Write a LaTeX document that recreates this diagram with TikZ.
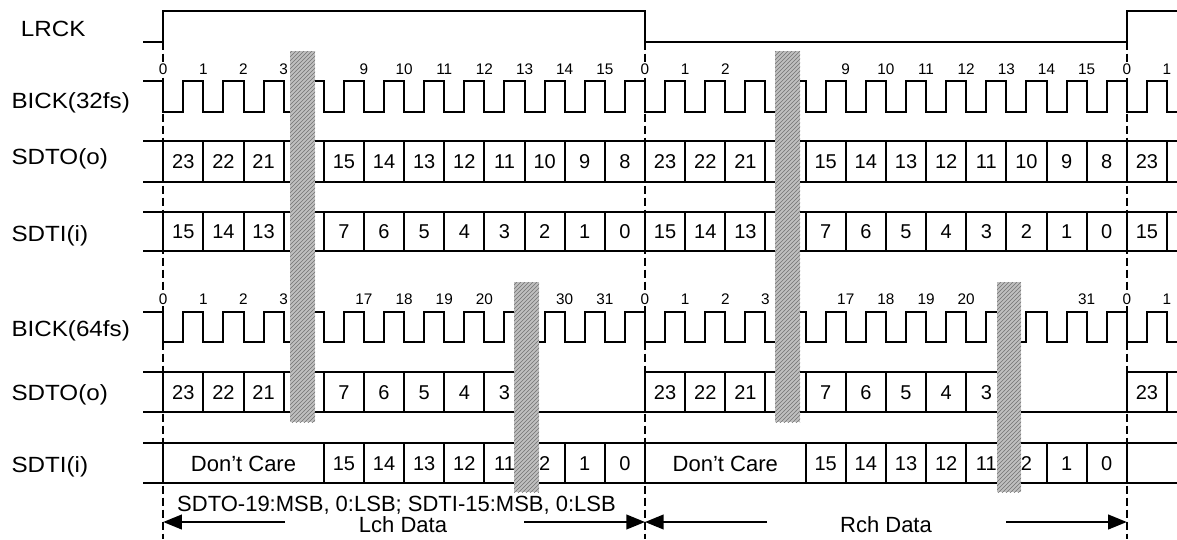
\documentclass[tikz,border=0pt]{standalone}
\usepackage{fontspec}
\setmainfont{Liberation Sans}
\newfontfamily\wideSans{Liberation Sans}[FakeStretch=1.1]
\usetikzlibrary{arrows.meta,patterns}

\tikzset{every picture/.style={line width=1.5pt}}
\tikzset{
  sig name/.style={anchor=base west, inner sep=0pt, font=\wideSans\fontsize{16.5}{18}\selectfont},
  bit num/.style={inner sep=1pt, fill=white, font=\fontsize{11.5}{12}\selectfont},
  cell val/.style={inner sep=0pt, font=\fontsize{15}{17}\selectfont},
  note txt/.style={anchor=base, inner sep=0pt, text depth=0pt, font=\fontsize{16.5}{18}\selectfont},
  frame edge/.style={line width=1.1pt, dash pattern=on 6pt off 3pt},
  skip bar/.style={fill=black!25, postaction={pattern=north east lines, pattern color=black!55}},
  ch arrow/.style={-{Triangle[length=14pt,width=11pt]}},
}

\begin{document}
\begin{tikzpicture}[x=0.75pt,y=0.75pt,yscale=-1,xscale=1]
	\useasboundingbox (0,0) rectangle (1177,539);

	%Frame edges (LRCK transitions)
	\coordinate (f0) at (163.2,41.7);
	\coordinate (f1) at (645,41.7);
	\coordinate (f2) at (1126.8,41.7);
	\foreach \f in {f0,f1,f2} \draw [frame edge] (\f) -- ++(0,497.3);

	%LRCK
	\draw (143,41.7) -- (f0) -- (163.2,11) -- (645,11) -- (f1) -- (f2) -- (1126.8,11) -- (1177,11);

	%BICK(32fs)
	\draw (143,81) \foreach \k in {0,...,24} { -- ({163.2+40.15*\k},81) -- ++(0,30.5) -- ++(20.075,0) -- ++(0,-30.5) } -- (1166.95,81) -- ++(0,30.5) -- (1177,111.5);
	\foreach \k/\n in {0/0,1/1,2/2,3/3,5/9,6/10,7/11,8/12,9/13,10/14,11/15,12/0,13/1,14/2,17/9,18/10,19/11,20/12,21/13,22/14,23/15,24/0,25/1}
		\draw ({163.2+40.15*\k},69.5) node [bit num] (ta\k) {\n};

	%SDTO(o) 32fs
	\draw (143,141) -- (1177,141) (143,181.5) -- (1177,181.5);
	\foreach \k in {0,...,25} \draw ({163.2+40.15*\k},141) -- ++(0,40.5);
	\foreach \k/\v in {0/23,1/22,2/21,4/15,5/14,6/13,7/12,8/11,9/10,10/9,11/8,12/23,13/22,14/21,16/15,17/14,18/13,19/12,20/11,21/10,22/9,23/8,24/23}
		\draw ({183.3+40.15*\k},162) node [cell val] (oa\k) {\v};

	%SDTI(i) 32fs
	\draw (143,211.5) -- (1177,211.5) (143,251) -- (1177,251);
	\foreach \k in {0,...,25} \draw ({163.2+40.15*\k},211.5) -- ++(0,39.5);
	\foreach \k/\v in {0/15,1/14,2/13,4/7,5/6,6/5,7/4,8/3,9/2,10/1,11/0,12/15,13/14,14/13,16/7,17/6,18/5,19/4,20/3,21/2,22/1,23/0,24/15}
		\draw ({183.3+40.15*\k},232) node [cell val] (ia\k) {\v};

	%BICK(64fs)
	\draw (143,311.7) \foreach \k in {0,...,24} { -- ({163.2+40.15*\k},311.7) -- ++(0,30.6) -- ++(20.075,0) -- ++(0,-30.6) } -- (1166.95,311.7) -- ++(0,30.6) -- (1177,342.3);
	\foreach \k/\n in {0/0,1/1,2/2,3/3,5/17,6/18,7/19,8/20,10/30,11/31,12/0,13/1,14/2,15/3,17/17,18/18,19/19,20/20,23/31,24/0,25/1}
		\draw ({163.2+40.15*\k},299) node [bit num] (tb\k) {\n};

	%SDTO(o) 64fs
	\draw (143,372.3) -- (520,372.3) (645,372.3) -- (1005,372.3) (1126.8,372.3) -- (1177,372.3) (143,412.3) -- (1177,412.3);
	\foreach \k in {0,...,8,12,13,...,20,24,25} \draw ({163.2+40.15*\k},372.3) -- ++(0,40);
	\foreach \k/\v in {0/23,1/22,2/21,4/7,5/6,6/5,7/4,8/3,12/23,13/22,14/21,16/7,17/6,18/5,19/4,20/3,24/23}
		\draw ({183.3+40.15*\k},393) node [cell val] (ob\k) {\v};

	%SDTI(i) 64fs
	\draw (143,442.7) -- (1177,442.7) (143,482.7) -- (1177,482.7);
	\foreach \k in {0,4,5,...,12,16,17,...,24} \draw ({163.2+40.15*\k},442.7) -- ++(0,40);
	\foreach \k/\v in {4/15,5/14,6/13,7/12,8/11,9/2,10/1,11/0,16/15,17/14,18/13,19/12,20/11,21/2,22/1,23/0}
		\draw ({183.3+40.15*\k},463.5) node [cell val] (ib\k) {\v};
	\draw (243.5,463.5) node [cell val, font=\fontsize{16.5}{18}\selectfont] (dcL) {Don’t Care};
	\draw (725.3,463.5) node [cell val, font=\fontsize{16.5}{18}\selectfont] (dcR) {Don’t Care};

	%Skipped bits
	\draw [skip bar, draw=none] (290,51) rectangle (315,422);
	\draw [skip bar, draw=none] (775,51) rectangle (800,422);
	\draw [skip bar, draw=none] (514,282) rectangle (539,492);
	\draw [skip bar, draw=none] (997,282) rectangle (1021,492);

	% Text Node
	\draw (20,36.7) node [sig name] (lrck) {LRCK};
	\draw (10.5,108.3) node [sig name] (bick32) {BICK(32fs)};
	\draw (10.5,164) node [sig name] (sdto32) {SDTO(o)};
	\draw (10.5,241.7) node [sig name] (sdti32) {SDTI(i)};
	\draw (10.5,336.7) node [sig name] (bick64) {BICK(64fs)};
	\draw (10.5,400.7) node [sig name] (sdto64) {SDTO(o)};
	\draw (10.5,472.3) node [sig name] (sdti64) {SDTI(i)};

	% Text Node
	\draw (396.5,511) node [note txt] (fmt) {SDTO-19:MSB, 0:LSB; SDTI-15:MSB, 0:LSB};
	\draw (403,532.5) node [note txt] (lch) {Lch Data};
	\draw (886,532.5) node [note txt] (rch) {Rch Data};

	%Channel arrows
	\coordinate (la) at (285,522);
	\coordinate (lb) at (524,522);
	\coordinate (ra) at (767,522);
	\coordinate (rb) at (1006,522);
	\draw [ch arrow] (la) -- (f0 |- la);
	\draw [ch arrow] (lb) -- (f1 |- lb);
	\draw [ch arrow] (ra) -- (f1 |- ra);
	\draw [ch arrow] (rb) -- (f2 |- rb);

\end{tikzpicture}
\end{document}
